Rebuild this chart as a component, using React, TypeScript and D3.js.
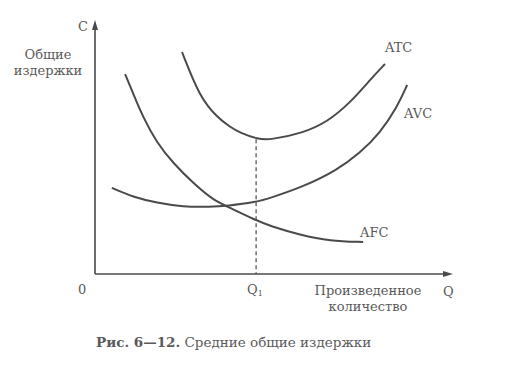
import React from "react";
import * as d3 from "d3";

// Output quantity Q (0..100) and average cost C (0..100)
const atcQ = [24.3, 29.3, 34.1, 37.7, 40.5, 45.5, 48.9, 58.1, 64.8, 71.2, 76.8, 81.0];
const atcC = [87.4, 69.5, 61.8, 57.9, 55.6, 53.1, 52.8, 55.5, 59.8, 67.3, 76.4, 82.7];

const avcQ = [4.7, 10.6, 17.3, 24.6, 32.1, 36.9, 45.0, 48.9, 58.1, 67.6, 74.0, 79.6, 84.4, 87.2];
const avcC = [33.9, 30.3, 28.0, 26.4, 26.4, 26.8, 28.3, 29.9, 34.3, 40.9, 47.6, 55.5, 65.7, 74.4];

const afcQ = [8.4, 10.6, 13.4, 17.3, 21.8, 27.4, 33.0, 37.2, 44.7, 48.9, 57.3, 65.6, 74.9];
const afcC = [78.7, 71.3, 61.8, 51.6, 43.7, 35.8, 29.1, 26.4, 21.3, 18.9, 15.4, 13.0, 12.6];

const curveNames = ["ATC", "AVC", "AFC"];
const q1Value = 45.0;
const q1Cost = 53.1;

const W = 523;
const H = 378;
const INK = "#4a4a4a";
const TXT = "#5a5a5a";
const FONT = "'DejaVu Serif', serif";

export default function App() {
  const x = d3.scaleLinear().domain([0, 100]).range([95, 453]);
  const y = d3.scaleLinear().domain([0, 100]).range([274, 20]);

  const line = d3
    .line<[number, number]>()
    .x((d) => x(d[0]))
    .y((d) => y(d[1]))
    .curve(d3.curveBasis);

  const zip = (a: number[], b: number[]) => a.map((v, i) => [v, b[i]] as [number, number]);
  const series = [zip(atcQ, atcC), zip(avcQ, avcC), zip(afcQ, afcC)];

  const x0 = x(0);
  const y0 = y(0);
  const xEnd = x(100);
  const yTop = y(100);

  return (
    <div style={{ margin: -8, width: W, height: H, background: "#fff" }}>
      <svg width={W} height={H} style={{ display: "block" }}>
        <rect width={W} height={H} fill="#fff" />
        {/* axes */}
        <line x1={x0} y1={y0} x2={x0} y2={yTop + 6} stroke={INK} strokeWidth={1.6} />
        <path d={`M${x0},${yTop} L${x0 - 3},${yTop + 10} L${x0 + 3},${yTop + 10} Z`} fill={INK} />
        <line x1={x0} y1={y0} x2={xEnd - 6} y2={y0} stroke={INK} strokeWidth={1.6} />
        <path d={`M${xEnd},${y0} L${xEnd - 10},${y0 - 3} L${xEnd - 10},${y0 + 3} Z`} fill={INK} />

        {/* Q1 dashed */}
        <line
          x1={x(q1Value)}
          y1={y(q1Cost)}
          x2={x(q1Value)}
          y2={y0}
          stroke={INK}
          strokeWidth={1.2}
          strokeDasharray="4,3"
        />

        {series.map((s, i) => (
          <path key={curveNames[i]} d={line(s) || ""} fill="none" stroke={INK} strokeWidth={2} />
        ))}

        <g fontFamily={FONT} fill={TXT} fontSize={13}>
          <text x={78} y={31}>C</text>
          <text x={48} y={59} textAnchor="middle">Общие</text>
          <text x={48} y={75} textAnchor="middle">издержки</text>
          <text x={385} y={52}>{curveNames[0]}</text>
          <text x={404} y={118}>{curveNames[1]}</text>
          <text x={360} y={237}>{curveNames[2]}</text>
          <text x={78} y={294}>0</text>
          <text x={247} y={294}>
            Q<tspan fontSize={8} dy={2}>1</tspan>
          </text>
          <text x={443} y={296}>Q</text>
          <text x={368} y={295} textAnchor="middle">Произведенное</text>
          <text x={368} y={311} textAnchor="middle">количество</text>
          <text x={96} y={347} fontSize={13.5}>
            <tspan fontWeight="bold">Рис. 6—12.</tspan> Средние общие издержки
          </text>
        </g>
      </svg>
    </div>
  );
}
